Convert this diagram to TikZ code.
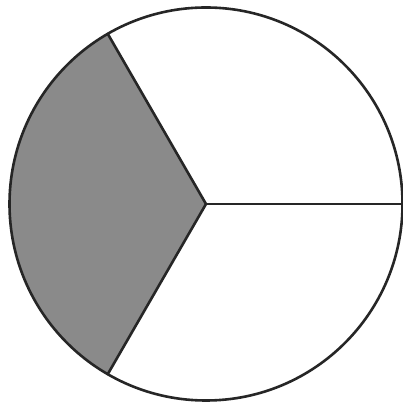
\documentclass[tikz,border=0pt]{standalone}
\usetikzlibrary{calc}
\begin{document}
\begin{tikzpicture}[x=1pt,y=1pt,
  rim/.style={draw=black!85, line width=2.6pt},
  spoke/.style={draw=black!85, line width=2.6pt, line cap=round},
  shade/.style={fill=black!46}]
\useasboundingbox (0,0) rectangle (402,403);
\coordinate (c) at (206,199);
\coordinate (tl) at ($(c)+(120:196.5)$);
\coordinate (bl) at ($(c)+(240:196.5)$);
\coordinate (r) at ($(c)+(0:196.5)$);
\fill[shade] (c) -- (tl) arc[start angle=120, end angle=240, radius=196.5] -- cycle;
\draw[rim] (c) circle[radius=196.5];
\draw[spoke] (tl) -- (c) -- (bl);
\draw[spoke] (c) -- (r);
\end{tikzpicture}
\end{document}
